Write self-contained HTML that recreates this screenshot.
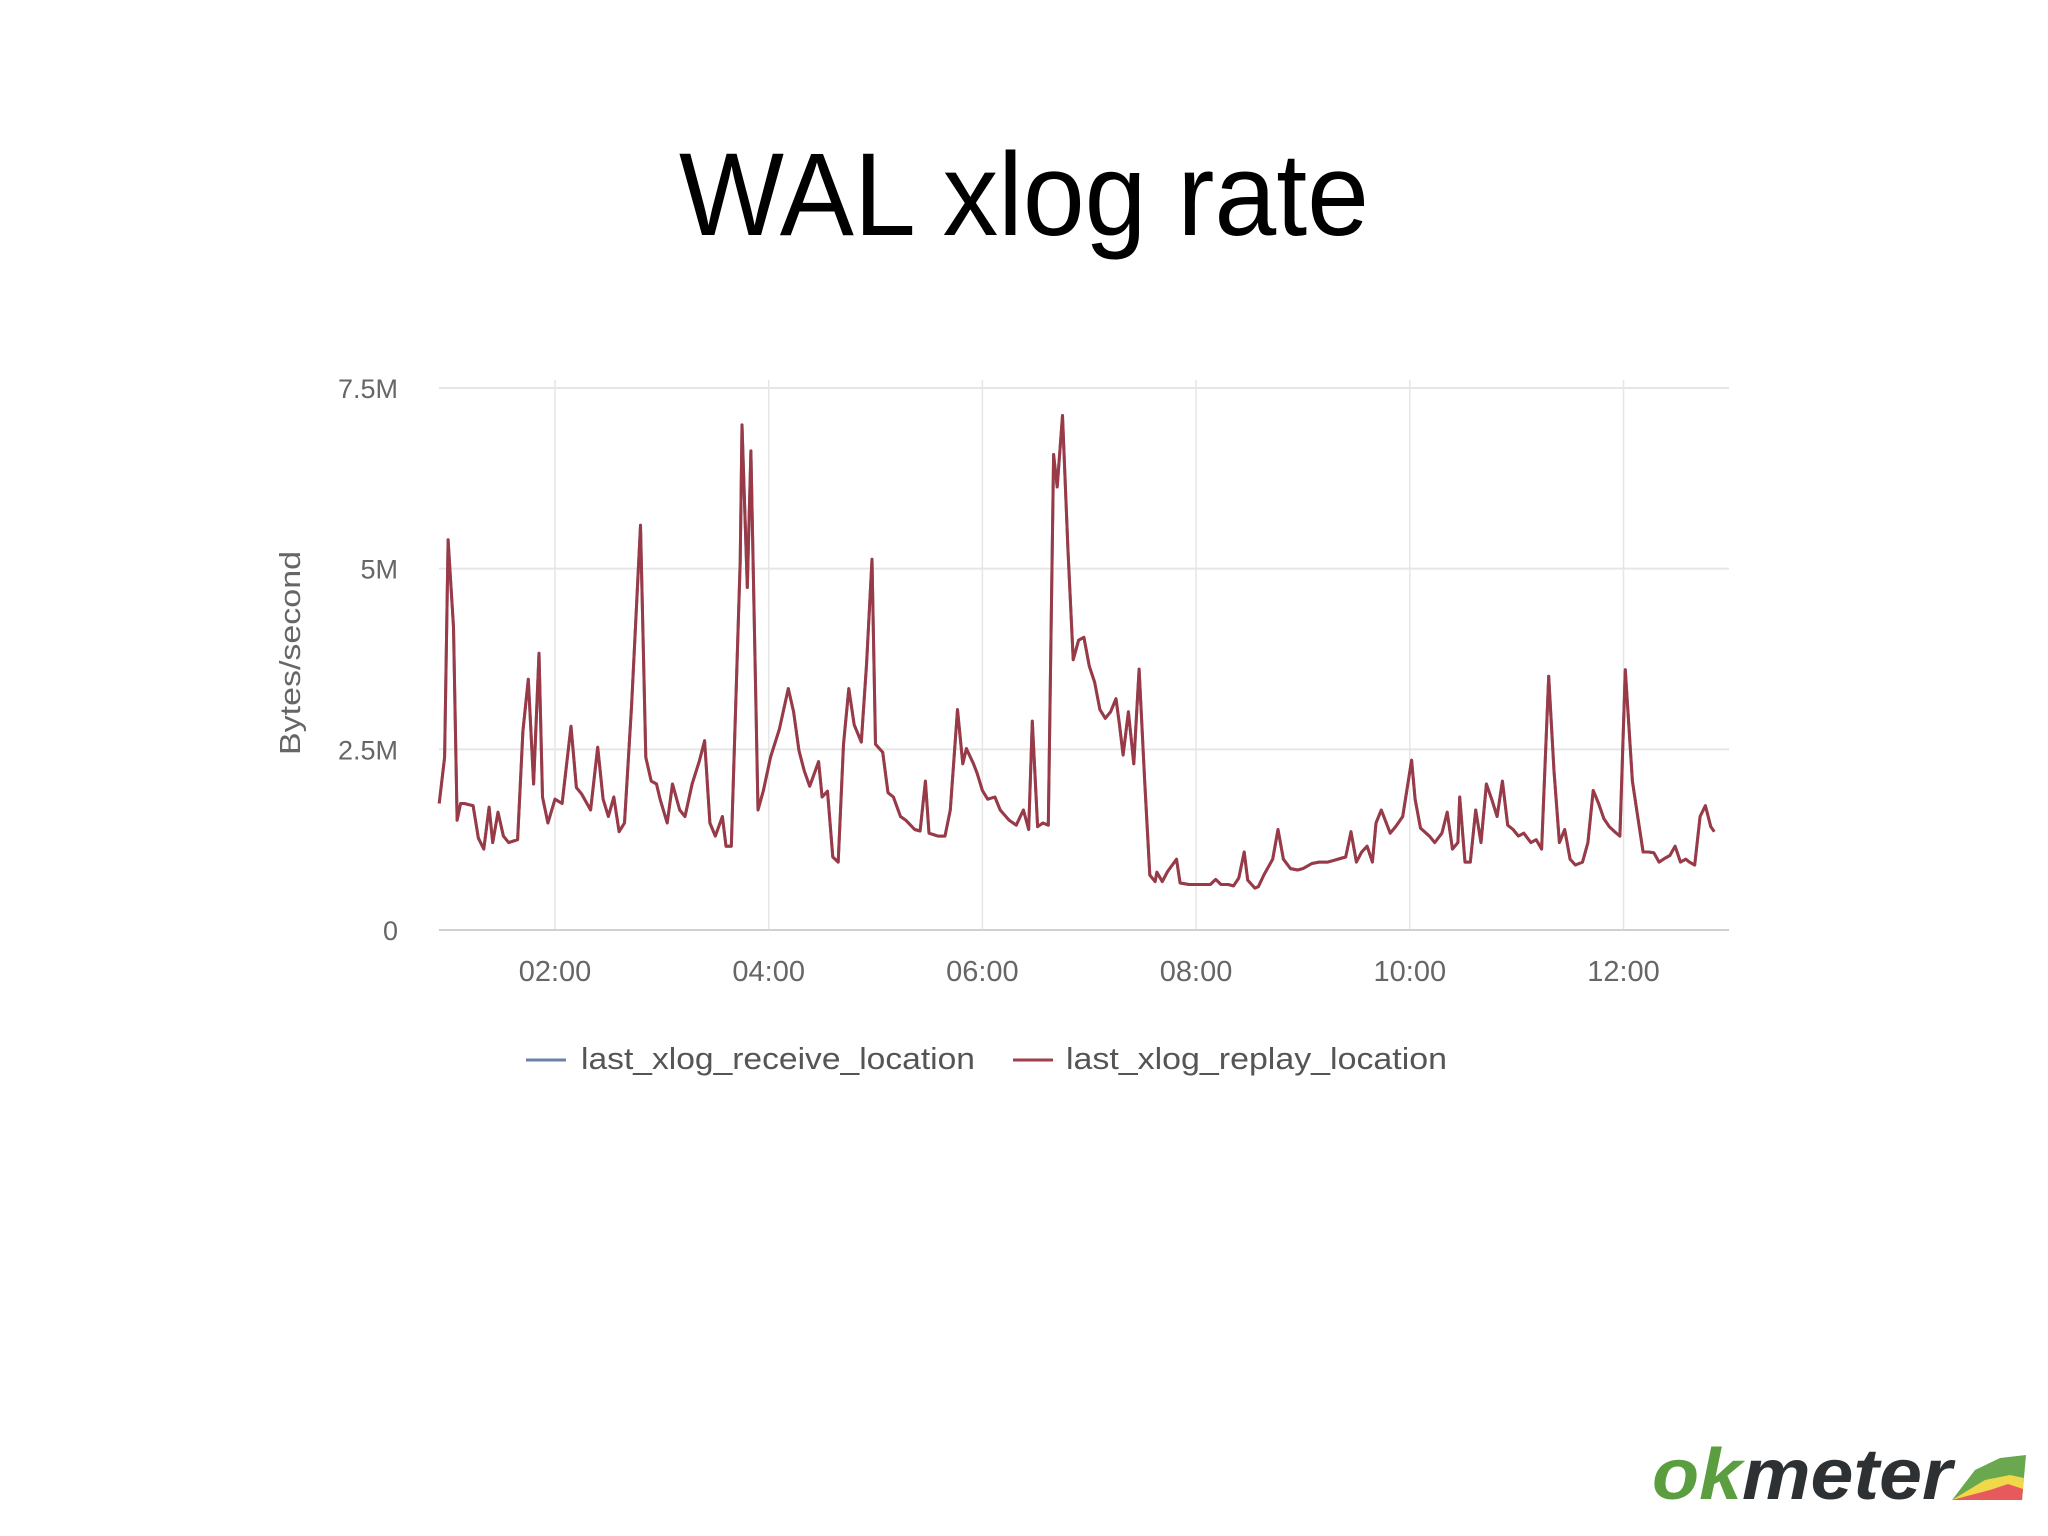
<!DOCTYPE html>
<html><head><meta charset="utf-8"><style>
html,body{margin:0;padding:0;background:#fff;}
#wrap{position:relative;width:2048px;height:1536px;overflow:hidden;background:#fff;}
</style></head><body>
<div id="wrap">
<svg id="svg" width="2048" height="1536" xmlns="http://www.w3.org/2000/svg">
  <text x="679" y="235" textLength="690" lengthAdjust="spacingAndGlyphs" font-family="Liberation Sans, sans-serif" font-size="118" fill="#000">WAL xlog rate</text>
  <g id="chart"></g>
  <text transform="translate(300,755) rotate(-90)" textLength="204" lengthAdjust="spacingAndGlyphs" font-family="Liberation Sans, sans-serif" font-size="29" fill="#666">Bytes/second</text>
  <g font-family="Liberation Sans, sans-serif" font-size="31" fill="#555">
    <g>
      <line x1="526" y1="1060" x2="566" y2="1060" stroke="#6b82a8" stroke-width="3"/>
      <text x="581" y="1069" textLength="394" lengthAdjust="spacingAndGlyphs">last_xlog_receive_location</text>
    </g>
    <g>
      <line x1="1013" y1="1060" x2="1053" y2="1060" stroke="#a0404c" stroke-width="3"/>
      <text x="1066" y="1069" textLength="381" lengthAdjust="spacingAndGlyphs">last_xlog_replay_location</text>
    </g>
  </g>
  <g>
    <text x="1652" y="1499" textLength="300" lengthAdjust="spacingAndGlyphs" font-family="Liberation Sans, sans-serif" font-size="72" font-weight="bold" font-style="italic"><tspan fill="#5b9e40">ok</tspan><tspan fill="#2e3134">meter</tspan></text>
    <polygon points="1952,1500 1975,1470 2000,1458 2026,1455 2022,1500" fill="#6aa84f"/>
    <polygon points="1952,1500 1985,1480 2010,1475 2024,1478 2022,1500" fill="#f0d84a"/>
    <polygon points="1952,1500 1990,1490 2008,1484 2023,1489 2022,1500" fill="#e65a5e"/>
  </g>
</svg>
</div>
<script>
const yTickValues = [0, 2.5, 5, 7.5];
const yTickLabels = ["0", "2.5M", "5M", "7.5M"];
const xTickMinutes = [120, 240, 360, 480, 600, 720];
const xTickLabels = ["02:00", "04:00", "06:00", "08:00", "10:00", "12:00"];
const timesMin = [55,58,60,63,65,67,69,74,77,80,83,85,88,91,94,99,102,105,108,111,113,116,120,124,129,132,135,140,144,147,150,153,156,159,163,168,171,174,177,179,183,186,190,193,197,201,204,207,210,214,216,219,224,225,228,230,234,237,241,246,251,254,257,260,263,268,270,273,276,279,282,285,288,292,295,298,300,304,307,310,314,317,322,325,328,330,335,339,342,346,349,351,355,357,360,363,367,370,375,379,383,386,388,391,394,397,400,402,405,408,411,414,417,420,423,426,429,432,435,437,439,442,445,448,451,454,457,458,461,464,469,471,476,480,485,488,491,494,498,501,504,507,509,513,515,518,523,526,529,533,537,540,545,549,554,557,561,564,567,570,573,576,579,581,584,589,592,596,601,603,606,611,614,618,621,624,627,628,631,634,637,640,643,646,649,652,655,658,661,664,668,671,674,678,681,684,687,690,693,697,700,703,706,709,712,715,718,721,725,728,731,734,737,740,743,746,749,752,755,757,760,763,766,769,771];
const receiveValues = [1.75,2.39,5.40,4.19,1.52,1.75,1.75,1.72,1.27,1.12,1.70,1.21,1.63,1.30,1.21,1.25,2.75,3.47,2.02,3.83,1.84,1.48,1.81,1.75,2.82,1.97,1.88,1.66,2.53,1.81,1.57,1.84,1.36,1.48,3.11,5.60,2.39,2.06,2.02,1.81,1.48,2.02,1.66,1.57,2.02,2.33,2.62,1.48,1.30,1.57,1.16,1.16,5.10,6.99,4.74,6.63,1.66,1.93,2.39,2.78,3.34,3.02,2.48,2.20,1.99,2.33,1.84,1.92,1.01,0.94,2.57,3.34,2.84,2.60,3.69,5.13,2.57,2.46,1.90,1.84,1.57,1.52,1.39,1.37,2.06,1.34,1.30,1.30,1.66,3.05,2.30,2.51,2.30,2.17,1.93,1.81,1.84,1.66,1.52,1.45,1.66,1.39,2.89,1.43,1.48,1.45,6.58,6.13,7.12,5.28,3.74,4.01,4.05,3.65,3.43,3.05,2.93,3.02,3.20,2.84,2.42,3.02,2.30,3.61,2.11,0.76,0.67,0.80,0.67,0.81,0.98,0.65,0.63,0.63,0.63,0.63,0.70,0.63,0.63,0.61,0.72,1.08,0.69,0.58,0.60,0.76,0.98,1.39,0.98,0.85,0.83,0.85,0.92,0.94,0.94,0.96,0.99,1.01,1.36,0.94,1.08,1.16,0.94,1.48,1.66,1.34,1.43,1.57,2.35,1.81,1.41,1.30,1.21,1.34,1.63,1.12,1.21,1.84,0.94,0.94,1.66,1.21,2.02,1.81,1.57,2.06,1.45,1.39,1.30,1.34,1.21,1.25,1.12,3.51,2.20,1.21,1.39,0.98,0.90,0.94,1.21,1.93,1.75,1.54,1.43,1.36,1.30,3.60,2.06,1.57,1.08,1.08,1.07,0.94,0.99,1.03,1.16,0.94,0.98,0.94,0.90,1.57,1.72,1.43,1.36];
const replayValues = receiveValues.slice();

const NS = "http://www.w3.org/2000/svg";
const plotLeft = 439, plotRight = 1729, plotTop = 380, yZero = 930, yTop = 388;
function xScale(min){ return 555 + (min - 120) * (1623.5 - 555) / 600; }
function yScale(v){ return yZero - v * (yZero - yTop) / 7.5; }
const chart = document.getElementById('chart');

xTickMinutes.forEach((m, i) => {
  const g = document.createElementNS(NS, 'line');
  g.setAttribute('x1', xScale(m)); g.setAttribute('x2', xScale(m));
  g.setAttribute('y1', plotTop); g.setAttribute('y2', yZero);
  g.setAttribute('stroke', '#e6e6e6'); g.setAttribute('stroke-width', '1.5');
  
  
  chart.appendChild(g);
  const t = document.createElementNS(NS, 'text');
  t.setAttribute('x', xScale(m)); t.setAttribute('y', 981);
  t.setAttribute('text-anchor', 'middle');
  t.setAttribute('font-family', 'Liberation Sans, sans-serif');
  t.setAttribute('font-size', '29'); t.setAttribute('fill', '#666');
  t.textContent = xTickLabels[i];
  
  
  chart.appendChild(t);
});
yTickValues.forEach((v, i) => {
  const g = document.createElementNS(NS, 'line');
  g.setAttribute('x1', plotLeft); g.setAttribute('x2', plotRight);
  g.setAttribute('y1', yScale(v)); g.setAttribute('y2', yScale(v));
  g.setAttribute('stroke', v === 0 ? '#d0d0d0' : '#e6e6e6'); g.setAttribute('stroke-width', '2');
  
  
  chart.appendChild(g);
  const t = document.createElementNS(NS, 'text');
  t.setAttribute('x', 398); t.setAttribute('y', yScale(v) + 10);
  t.setAttribute('text-anchor', 'end');
  t.setAttribute('font-family', 'Liberation Sans, sans-serif');
  t.setAttribute('font-size', '27'); t.setAttribute('fill', '#666');
  t.textContent = yTickLabels[i];
  
  
  chart.appendChild(t);
});
function drawSeries(vals, color, name){
  const p = document.createElementNS(NS, 'path');
  let d = '';
  vals.forEach((v, i) => { d += (i ? 'L' : 'M') + xScale(timesMin[i]).toFixed(1) + ',' + yScale(v).toFixed(1); });
  p.setAttribute('d', d);
  p.setAttribute('fill', 'none'); p.setAttribute('stroke', color);
  p.setAttribute('stroke-width', '3'); p.setAttribute('stroke-linejoin', 'round');
  
  
  chart.appendChild(p);
}
drawSeries(receiveValues, '#6b82a8', 'receive-location-line');
drawSeries(replayValues, '#9a3a47', 'replay-location-line');
</script>
</body></html>
